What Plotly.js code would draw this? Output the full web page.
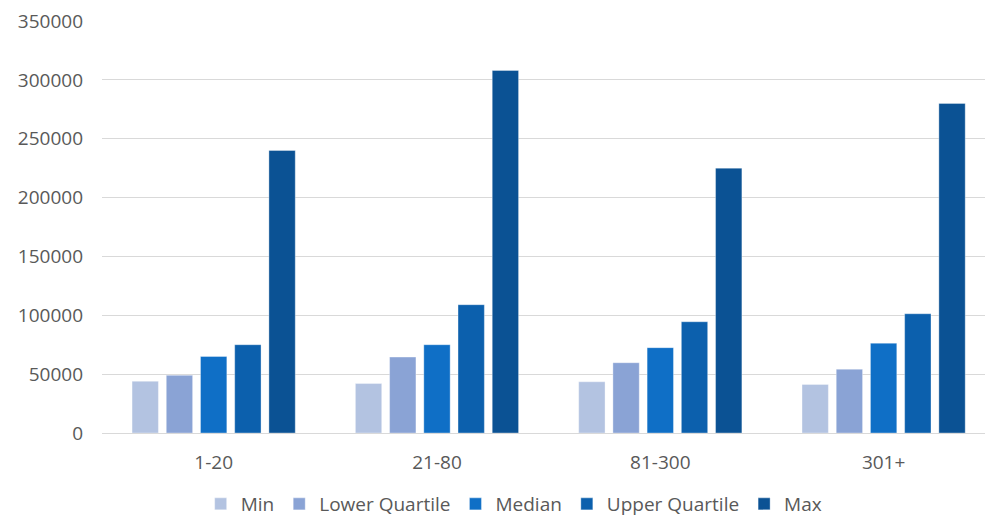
<!DOCTYPE html>
<html>
<head>
<meta charset="utf-8">
<script src="https://cdn.plot.ly/plotly-3.0.1.min.js"></script>
<style>html,body{margin:0;padding:0;background:#fff;}#chart{width:985px;height:517px;}</style>
</head>
<body>
<div id="chart"></div>
<script>
const categories = ["1-20", "21-80", "81-300", "301+"];
const seriesNames = ["Min", "Lower Quartile", "Median", "Upper Quartile", "Max"];
const minVals = [44000, 42000, 43500, 41300];
const lowerQuartileVals = [49000, 64500, 59700, 54200];
const medianVals = [65000, 75000, 72500, 76300];
const upperQuartileVals = [75000, 109000, 94500, 101300];
const maxVals = [240000, 308000, 225000, 280000];
const yTicks = [0, 50000, 100000, 150000, 200000, 250000, 300000, 350000];

const colors = ["#b3c3e1", "#8aa3d5", "#0f6fc6", "#0c60ad", "#0b5294"];
const allVals = [minVals, lowerQuartileVals, medianVals, upperQuartileVals, maxVals];

const traces = seriesNames.map((name, i) => ({
  type: "bar",
  name: name,
  x: categories,
  y: allVals[i],
  marker: { color: colors[i], line: { color: "rgba(255,255,255,0.35)", width: 1 } },
  hoverinfo: "x+y+name"
}));

const fam = "Open Sans, Noto Sans, sans-serif";
const fsize = 19;

const layout = {
  width: 985,
  height: 517,
  margin: { l: 102, r: 0, t: 21, b: 84, pad: 0, autoexpand: false },
  paper_bgcolor: "#ffffff",
  plot_bgcolor: "#ffffff",
  font: { family: fam, color: "#595959", size: fsize },
  barmode: "group",
  bargap: 0.234,
  bargroupgap: 0.23,
  showlegend: true,
  legend: {
    orientation: "h",
    xref: "container",
    yref: "container",
    x: 0.522,
    xanchor: "center",
    y: 0.0251,
    yanchor: "middle",
    font: { family: fam, color: "#595959", size: fsize },
    itemwidth: 30,
    traceorder: "normal"
  },
  xaxis: {
    type: "category",
    range: [-0.5, 3.454],
    showgrid: false,
    showline: true,
    linecolor: "#d9d9d9",
    linewidth: 1,
    ticks: "",
    automargin: false,
    ticklabelstandoff: 12,
    tickfont: { family: fam, color: "#595959", size: fsize },
    fixedrange: true
  },
  yaxis: {
    range: [0, 350000],
    tickvals: yTicks,
    ticktext: yTicks.map(String),
    showgrid: true,
    gridcolor: "#d9d9d9",
    gridwidth: 1,
    zeroline: false,
    showline: false,
    ticks: "",
    automargin: false,
    ticklabelstandoff: 18,
    tickfont: { family: fam, color: "#595959", size: fsize },
    fixedrange: true
  }
};

Plotly.newPlot("chart", traces, layout, { displayModeBar: false, staticPlot: true });
</script>
</body>
</html>
